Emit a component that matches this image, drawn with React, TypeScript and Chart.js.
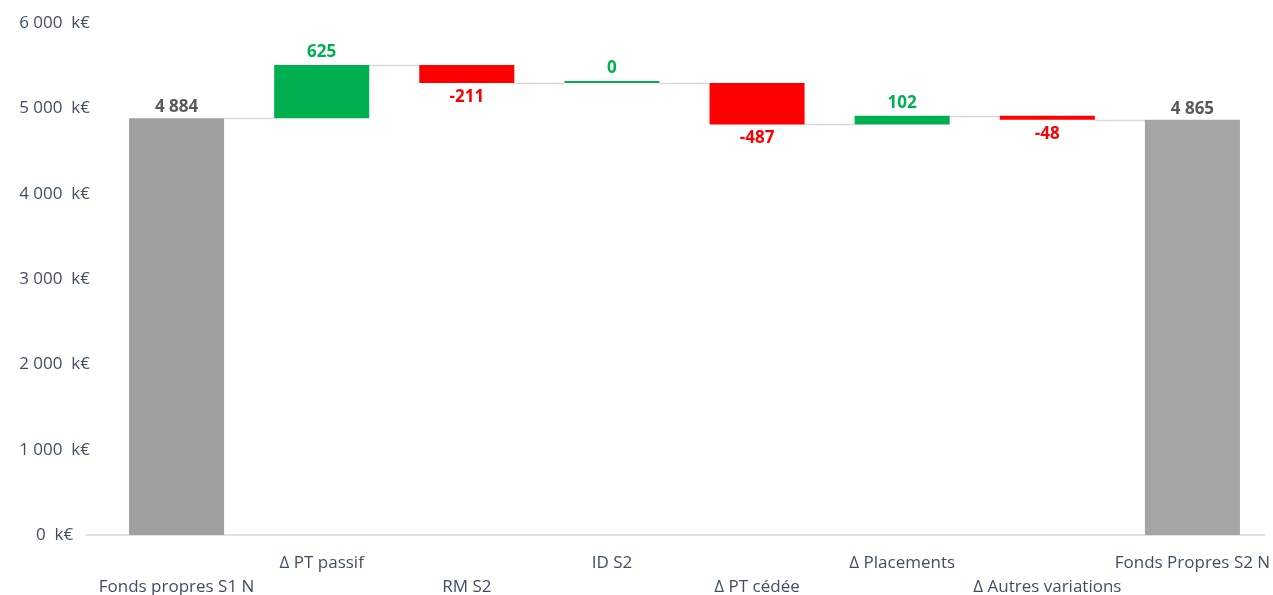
import { useEffect, useRef } from "react";
import { Chart, registerables } from "chart.js";

Chart.register(...registerables);

const categories = [
  "Fonds propres S1 N",
  "Δ PT passif",
  "RM S2",
  "ID S2",
  "Δ PT cédée",
  "Δ Placements",
  "Δ Autres variations",
  "Fonds Propres S2 N",
];
const values = [4884, 625, -211, 0, -487, 102, -48, 4865];
const isTotal = [true, false, false, false, false, false, false, true];
const yTicks = [0, 1000, 2000, 3000, 4000, 5000, 6000];

const GREEN = "#00B050";
const RED = "#FF0000";
const GRAY_FIRST = "#A0A0A0";
const GRAY_LAST = "#A5A5A5";
const TEXT = "#3E5064";
const FONT = "'Open Sans', 'Liberation Sans', sans-serif";

const fmt = (v: number) => {
  const s = Math.abs(v).toString().replace(/\B(?=(\d{3})+(?!\d))/g, " ");
  return (v < 0 ? "-" : "") + s;
};

// floating ranges built from values
const ranges: [number, number][] = [];
const levels: number[] = [];
{
  let run = 0;
  values.forEach((v, i) => {
    if (isTotal[i]) {
      ranges.push([0, v]);
      run = v;
    } else {
      ranges.push([run, run + v]);
      run = run + v;
    }
    levels.push(run);
  });
}

const colors = values.map((v, i) =>
  isTotal[i] ? (i === 0 ? GRAY_FIRST : GRAY_LAST) : v >= 0 ? GREEN : RED
);
const labelColors = values.map((v, i) =>
  isTotal[i] ? "#595959" : v >= 0 ? GREEN : RED
);

const waterfallPlugin = {
  id: "waterfall",
  beforeDatasetsDraw(chart: any) {
    const { ctx, chartArea } = chart;
    const y = chart.scales.y;
    const meta = chart.getDatasetMeta(0);
    ctx.save();
    ctx.strokeStyle = "#D9D9D9";
    ctx.lineWidth = 1.5;
    const y0 = y.getPixelForValue(0);
    ctx.beginPath();
    ctx.moveTo(85, y0);
    ctx.lineTo(chartArea.right, y0);
    ctx.stroke();
    for (let i = 0; i < meta.data.length - 1; i++) {
      const a = meta.data[i];
      const b = meta.data[i + 1];
      const py = Math.round(y.getPixelForValue(levels[i])) + 0.5;
      ctx.beginPath();
      ctx.moveTo(a.x + a.width / 2, py);
      ctx.lineTo(b.x - b.width / 2, py);
      ctx.stroke();
    }
    ctx.restore();
  },
  afterDatasetsDraw(chart: any) {
    const { ctx } = chart;
    const meta = chart.getDatasetMeta(0);
    ctx.save();
    ctx.font = `bold 17px ${FONT}`;
    ctx.textAlign = "center";
    ctx.textBaseline = "middle";
    meta.data.forEach((bar: any, i: number) => {
      const top = Math.min(bar.y, bar.base);
      const bottom = Math.max(bar.y, bar.base);
      const v = values[i];
      ctx.fillStyle = labelColors[i];
      let ty: number;
      if (isTotal[i]) ty = top - 11;
      else if (v >= 0) ty = top - 13;
      else ty = bottom + 14;
      ctx.fillText(fmt(v), bar.x, ty);
    });
    ctx.restore();
  },
};

export default function App() {
  const ref = useRef<HTMLCanvasElement>(null);
  useEffect(() => {
    if (!ref.current) return;
    const chart = new Chart(ref.current, {
      type: "bar",
      data: {
        labels: categories.map((c, i) => (i % 2 === 0 ? ["", c] : [c, ""])),
        datasets: [
          {
            data: ranges as any,
            backgroundColor: colors,
            borderWidth: 0,
            borderSkipped: false,
            categoryPercentage: 1,
            barPercentage: 0.655,
            minBarLength: 2,
          },
        ],
      },
      options: {
        responsive: false,
        maintainAspectRatio: false,
        animation: false,
        layout: { padding: { top: 23, right: 8, bottom: 0, left: 0 } },
        plugins: {
          legend: { display: false },
          tooltip: { enabled: false },
        },
        scales: {
          x: {
            grid: { display: false, drawTicks: false },
            border: { display: false },
            ticks: {
              color: TEXT,
              font: { family: FONT, size: 17, lineHeight: 1.42 },
              padding: 16,
              maxRotation: 0,
              autoSkip: false,
            },
            afterFit(scale: any) {
              scale.height = 60;
              scale.paddingLeft = 0;
              scale.paddingRight = 0;
            },
          },
          y: {
            min: 0,
            max: 6000,
            afterBuildTicks(scale: any) {
              scale.ticks = yTicks.map((v) => ({ value: v }));
            },
            grid: { display: false, drawTicks: false },
            border: { display: false },
            ticks: {
              color: TEXT,
              crossAlign: "center",
              padding: 14,
              font: { family: FONT, size: 17 },
              callback: (v: any) => fmt(Number(v)) + "  k€",
            },
            afterFit(scale: any) {
              scale.width = 104;
              scale.paddingTop = 0;
              scale.paddingBottom = 0;
            },
          },
        },
      },
      plugins: [waterfallPlugin],
    });
    return () => chart.destroy();
  }, []);
  return (
    <div style={{ position: "fixed", left: 0, top: 0, width: 1273, height: 595 }}>
      <canvas ref={ref} width={1273} height={595} />
    </div>
  );
}
